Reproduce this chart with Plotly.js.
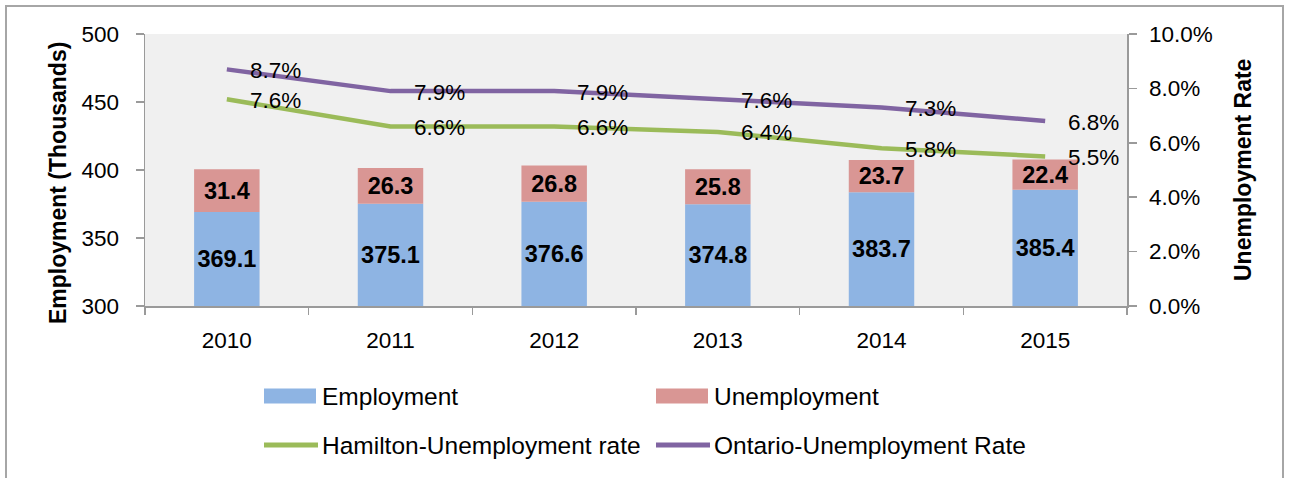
<!DOCTYPE html>
<html>
<head>
<meta charset="utf-8">
<script src="https://cdn.plot.ly/plotly-3.0.1.min.js"></script>
<style>
  html, body { margin: 0; padding: 0; background: #fff; overflow: hidden; }
  #chart { width: 1294px; height: 478px; }
  #frame { position: absolute; left: 5px; top: 5px; width: 1275px; height: 600px;
           border: 2px solid #A6A6A6; border-bottom: none; pointer-events: none; }
</style>
</head>
<body>
<div id="chart"></div>
<div id="frame"></div>
<script>
const years = ['2010', '2011', '2012', '2013', '2014', '2015'];
const employment = [369.1, 375.1, 376.6, 374.8, 383.7, 385.4];
const unemployment = [31.4, 26.3, 26.8, 25.8, 23.7, 22.4];
const hamiltonRate = [7.6, 6.6, 6.6, 6.4, 5.8, 5.5];
const ontarioRate = [8.7, 7.9, 7.9, 7.6, 7.3, 6.8];
const seriesNames = ['Employment', 'Unemployment', 'Hamilton-Unemployment rate', 'Ontario-Unemployment Rate'];
const leftAxisMin = 300;

const FONT = 'Liberation Sans, Arial, sans-serif';
const C_EMP = '#8EB4E3', C_UNEMP = '#D99694', C_HAM = '#9BBB59', C_ONT = '#8064A2';

// plot area geometry (px) used to place the hand-drawn legend
const M = {l: 145, r: 167, t: 34, b: 172};
const PW = 1294 - M.l - M.r, PH = 478 - M.t - M.b;
const px = v => (v - M.l) / PW;
const py = v => (478 - M.b - v) / PH;

function lineTrace(vals, name, color) {
  return {
    type: 'scatter', mode: 'lines', x: years, y: vals, yaxis: 'y2',
    name: name, showlegend: false, line: {color: color, width: 4.5}, hoverinfo: 'skip'
  };
}

const traces = [
  {
    type: 'bar', name: seriesNames[0], x: years, y: employment.map(v => v - leftAxisMin), base: leftAxisMin,
    text: employment.map(v => v.toFixed(1)), textposition: 'inside', insidetextanchor: 'middle',
    constraintext: 'none', textfont: {family: FONT, size: 23.5, color: '#000', weight: 'bold'},
    marker: {color: C_EMP}, width: 0.4, showlegend: false, hoverinfo: 'skip'
  },
  {
    type: 'bar', name: seriesNames[1], x: years, y: unemployment, base: employment,
    text: unemployment.map(v => v.toFixed(1)), textposition: 'inside', insidetextanchor: 'middle',
    constraintext: 'none', textfont: {family: FONT, size: 23.5, color: '#000', weight: 'bold'},
    marker: {color: C_UNEMP}, width: 0.4, showlegend: false, hoverinfo: 'skip'
  },
  lineTrace(hamiltonRate, seriesNames[2], C_HAM),
  lineTrace(ontarioRate, seriesNames[3], C_ONT)
];

const shapes = [], annotations = [];

// data labels of the rate lines, placed at the data points through the axes
// (category axis: annotation x is the category's serial number)
[hamiltonRate, ontarioRate].forEach(vals => {
  vals.forEach((v, i) => {
    annotations.push({text: v.toFixed(1) + '%', xref: 'x', yref: 'y2', x: i, y: v,
      xanchor: 'left', yanchor: 'middle', xshift: 21, yshift: -1, showarrow: false,
      font: {family: FONT, size: 22.5, color: '#000'}});
  });
});

// legend (drawn as shapes + annotations so swatches match the original size)
const legRows = [396, 445];
const legCols = [264, 656];
const legendItems = [
  {name: seriesNames[0], color: C_EMP, kind: 'rect', col: 0, row: 0},
  {name: seriesNames[1], color: C_UNEMP, kind: 'rect', col: 1, row: 0},
  {name: seriesNames[2], color: C_HAM, kind: 'line', col: 0, row: 1},
  {name: seriesNames[3], color: C_ONT, kind: 'line', col: 1, row: 1}
];
legendItems.forEach(it => {
  const x0 = legCols[it.col], yc = legRows[it.row];
  if (it.kind === 'rect') {
    shapes.push({type: 'rect', xref: 'paper', yref: 'paper', x0: px(x0), x1: px(x0 + 52),
      y0: py(yc - 7.5), y1: py(yc + 7.5), fillcolor: it.color, line: {width: 0}});
  } else {
    shapes.push({type: 'line', xref: 'paper', yref: 'paper', x0: px(x0), x1: px(x0 + 54),
      y0: py(yc), y1: py(yc), line: {color: it.color, width: 5}});
  }
  annotations.push({text: it.name, xref: 'paper', yref: 'paper', x: px(x0 + 56), y: py(yc),
    xanchor: 'left', yanchor: 'middle', showarrow: false,
    font: {family: FONT, size: 24.5, color: '#000'}});
});

annotations.push(
  { text: 'Employment (Thousands)', textangle: -90, xref: 'paper', yref: 'paper',
    x: 0, y: 0.452, xanchor: 'center', yanchor: 'middle', xshift: -87, showarrow: false,
    font: {family: FONT, size: 23, color: '#000', weight: 'bold'} },
  { text: 'Unemployment Rate', textangle: -90, xref: 'paper', yref: 'paper',
    x: 1, y: 0.5, xanchor: 'center', yanchor: 'middle', xshift: 116, showarrow: false,
    font: {family: FONT, size: 23, color: '#000', weight: 'bold'} }
);

const layout = {
  width: 1294, height: 478,
  margin: {l: M.l, r: M.r, t: M.t, b: M.b, pad: 0},
  paper_bgcolor: '#FFFFFF', plot_bgcolor: '#F0F0F0',
  barmode: 'overlay', showlegend: false,
  font: {family: FONT, size: 22.5, color: '#000'},
  xaxis: {
    type: 'category', categoryorder: 'array', categoryarray: years,
    range: [-0.5, years.length - 0.5], showgrid: false, zeroline: false,
    showline: true, linecolor: '#9A9A9A', linewidth: 1.5,
    ticks: 'outside', tickson: 'boundaries', ticklen: 7, tickcolor: '#9A9A9A', tickwidth: 1.5,
    tickfont: {family: FONT, size: 22.5, color: '#000'}, ticklabelstandoff: 13
  },
  yaxis: {
    range: [300, 500], dtick: 50, tick0: 300, showgrid: false, zeroline: false,
    showline: true, linecolor: '#9A9A9A', linewidth: 1.5,
    ticks: 'outside', ticklen: 8, tickcolor: '#9A9A9A', tickwidth: 1.5,
    tickfont: {family: FONT, size: 22.5, color: '#000'}, ticklabelstandoff: 12
  },
  yaxis2: {
    overlaying: 'y', side: 'right', range: [0, 10], dtick: 2, tick0: 0,
    tickformat: '.1f', ticksuffix: '%', showgrid: false, zeroline: false,
    showline: true, linecolor: '#9A9A9A', linewidth: 1.5,
    ticks: 'outside', ticklen: 8, tickcolor: '#9A9A9A', tickwidth: 1.5,
    tickfont: {family: FONT, size: 22.5, color: '#000'}, ticklabelstandoff: 8
  },
  shapes: shapes,
  annotations: annotations
};

Plotly.newPlot('chart', traces, layout, {staticPlot: true, displayModeBar: false});
</script>
</body>
</html>
